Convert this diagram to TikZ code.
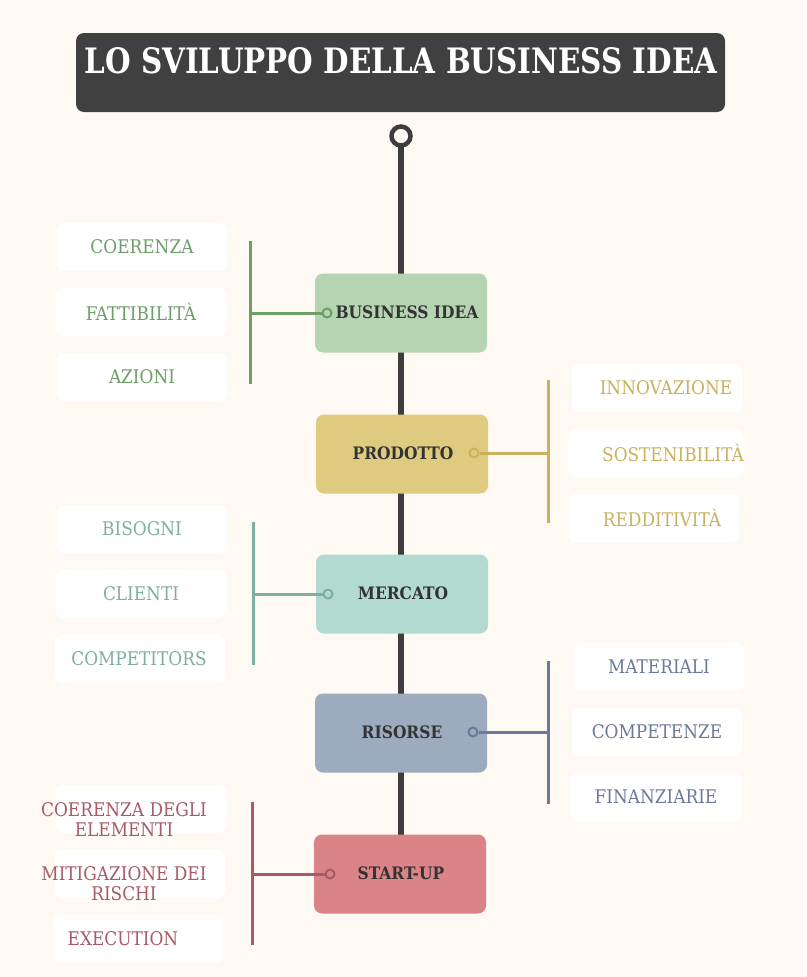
\documentclass[tikz,border=0pt]{standalone}
\usepackage{fontspec}
\setmainfont{DejaVu Serif}
\newfontfamily\condfont{DejaVu Serif Condensed}
\usepackage{graphicx}
\usetikzlibrary{positioning,shapes}

\definecolor{bgc}{HTML}{FEF9F3}
\definecolor{titlec}{HTML}{404040}
\definecolor{spinec}{HTML}{3D3D3D}
\definecolor{maintxt}{HTML}{333333}
\definecolor{bizfill}{HTML}{B5D4B2}\definecolor{bizline}{HTML}{6E9E68}
\definecolor{prodfill}{HTML}{DFCB7F}\definecolor{prodline}{HTML}{C9B15F}
\definecolor{mercfill}{HTML}{B2DAD0}\definecolor{mercline}{HTML}{7FAFA3}
\definecolor{risfill}{HTML}{9DABBE}\definecolor{risline}{HTML}{6B7A9A}
\definecolor{startfill}{HTML}{DB8487}\definecolor{startline}{HTML}{A85A65}

\tikzset{
  mainbox/.style={rounded corners=8pt, minimum width=172pt, minimum height=79pt,
    inner sep=0pt},
  maintext/.style={text=maintxt, font=\condfont\bfseries\fontsize{17.2}{20}\selectfont},
  subbox/.style={fill=white, rounded corners=8pt, minimum width=171pt, minimum height=48pt,
    inner sep=0pt, align=center, font=\condfont\fontsize{18.8}{20}\selectfont},
  subtext/.style={align=center, inner sep=0pt, font=\condfont\fontsize{18.8}{20}\selectfont},
  branch/.style={line width=3pt},
  dot/.style={circle, draw, line width=2pt, minimum size=9pt, inner sep=0pt},
}

\begin{document}
\begin{tikzpicture}[x=1pt,y=-1pt]
		% Background
		\fill[bgc] (0,0) rectangle (806,977);

		% Title
		\fill[titlec, rounded corners=8pt] (76,33) rectangle (725,112);
		\node[text=white, font=\bfseries\fontsize{35}{38}\selectfont] (title) at (401,61)
			{\scalebox{0.84}[1]{LO SVILUPPO DELLA BUSINESS IDEA}};

		% Spine
		\coordinate (top) at (401,136);
		\coordinate (bottom) at (401,835);
		\draw[spinec, line width=6pt] (top) -- (bottom);
		\node[circle, draw=spinec, fill=bgc, line width=4.5pt, minimum size=19pt, inner sep=0pt] (knob) at (top) {};

		% Main steps
		\node[mainbox, fill=bizfill] (biz) at (401,313) {};
		\node[mainbox, fill=prodfill] (prod) at (402,454) {};
		\node[mainbox, fill=mercfill] (merc) at (402,594) {};
		\node[mainbox, fill=risfill] (ris) at (401,733) {};
		\node[mainbox, fill=startfill] (start) at (400,874) {};

		\node[maintext] at (407,312) {BUSINESS IDEA};
		\node[maintext] at (403,453) {PRODOTTO};
		\node[maintext] at (403,593) {MERCATO};
		\node[maintext] at (402,732) {RISORSE};
		\node[maintext] at (401,873) {START-UP};

		% Business idea (left)
		\node[dot, draw=bizline, fill=bizfill] (bizd) at (327,313) {};
		\coordinate (bizj) at (250,313);
		\draw[branch, bizline] (250,241) -- (250,384);
		\draw[branch, bizline] (bizj) -- (bizd);
		\node[subbox, text=bizline] (biz1) at (142,247) {COERENZA};
		\node[subbox, text=bizline] (biz2) at (141,312) {FATTIBILITÀ};
		\node[subbox, text=bizline] (biz3) at (142,377) {AZIONI};

		% Prodotto (right)
		\node[dot, draw=prodline, fill=prodfill] (prodd) at (474,453) {};
		\coordinate (prodj) at (548,453);
		\draw[branch, prodline] (548,380) -- (548,523);
		\draw[branch, prodline] (prodd) -- (prodj);
		\node[subbox, text=prodline] (prod1) at (657,388) {\hspace*{18pt}INNOVAZIONE};
		\node[subbox, text=prodline] (prod2) at (656,453) {\hspace*{34pt}SOSTENIBILITÀ};
		\node[subbox, text=prodline] (prod3) at (654,518) {\hspace*{16pt}REDDITIVITÀ};

		% Mercato (left)
		\node[dot, draw=mercline, fill=mercfill] (mercd) at (328,594) {};
		\coordinate (mercj) at (253,594);
		\draw[branch, mercline] (253,522) -- (253,665);
		\draw[branch, mercline] (mercj) -- (mercd);
		\node[subbox, text=mercline] (merc1) at (142,529) {BISOGNI};
		\node[subbox, text=mercline] (merc2) at (141,594) {CLIENTI};
		\node[subbox, text=mercline] (merc3) at (140,659) {\hspace*{-2pt}COMPETITORS};

		% Risorse (right)
		\node[dot, draw=risline, fill=risfill] (risd) at (473,732) {};
		\coordinate (risj) at (548,732);
		\draw[branch, risline] (548,661) -- (548,804);
		\draw[branch, risline] (risd) -- (risj);
		\node[subbox, text=risline] (ris1) at (659,667) {MATERIALI};
		\node[subbox, text=risline] (ris2) at (657,732) {COMPETENZE};
		\node[subbox, text=risline] (ris3) at (656,797) {FINANZIARIE};

		% Start-up (left)
		\node[subbox] (start1) at (141,809) {};
		\node[subbox] (start2) at (140,874) {};
		\node[subtext, text=startline] at (124,820) {COERENZA DEGLI\\ELEMENTI};
		\node[subtext, text=startline] at (124,884) {MITIGAZIONE DEI\\RISCHI};
		\node[subbox, text=startline] (start3) at (138,939) {\hspace*{-30pt}EXECUTION};
		\node[dot, draw=startline, fill=startfill] (startd) at (330,874) {};
		\coordinate (startj) at (252,874);
		\draw[branch, startline] (252,802) -- (252,945);
		\draw[branch, startline] (startj) -- (startd);
	\end{tikzpicture}
\end{document}
